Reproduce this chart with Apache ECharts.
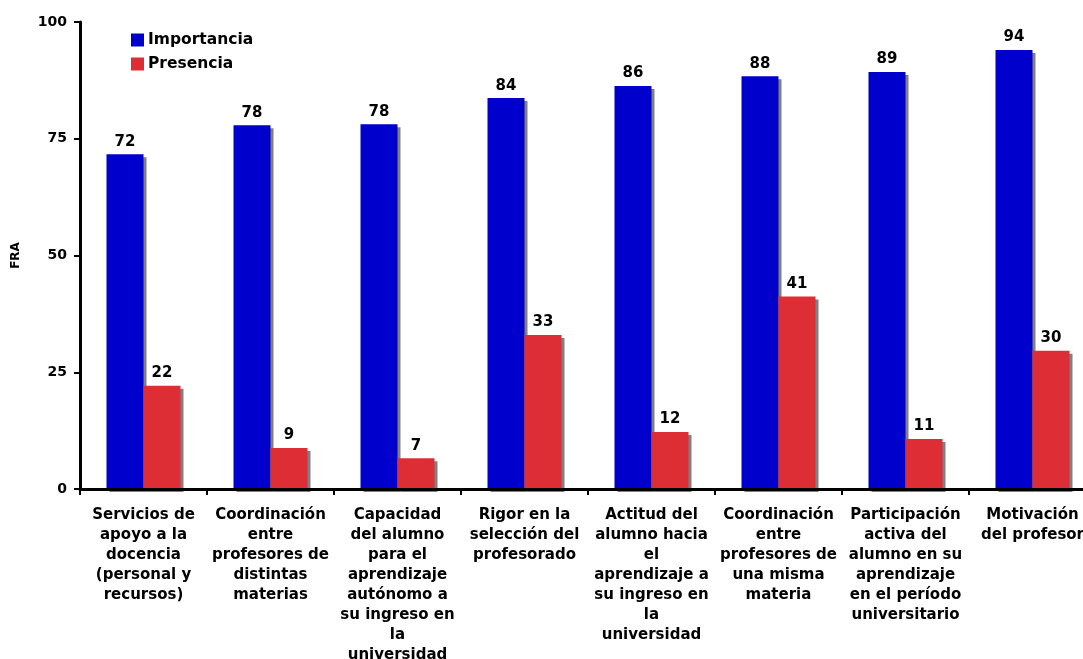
<!DOCTYPE html>
<html>
<head>
<meta charset="utf-8">
<script src="https://cdn.jsdelivr.net/npm/echarts@6/dist/echarts.min.js"></script>
<style>html,body{margin:0;padding:0;background:#fff;}#c{width:1083px;height:659px;}</style>
</head>
<body>
<div id="c"></div>
<script>
const categories = [
  "Servicios de\napoyo a la\ndocencia\n(personal y\nrecursos)",
  "Coordinación\nentre\nprofesores de\ndistintas\nmaterias",
  "Capacidad\ndel alumno\npara el\naprendizaje\nautónomo a\nsu ingreso en\nla\nuniversidad",
  "Rigor en la\nselección del\nprofesorado",
  "Actitud del\nalumno hacia\nel\naprendizaje a\nsu ingreso en\nla\nuniversidad",
  "Coordinación\nentre\nprofesores de\nuna misma\nmateria",
  "Participación\nactiva del\nalumno en su\naprendizaje\nen el período\nuniversitario",
  "Motivación\ndel profesor"
];
const importancia = [71.7, 77.9, 78.1, 83.7, 86.3, 88.4, 89.3, 94.0];
const presencia = [22.1, 8.8, 6.6, 33.0, 12.2, 41.2, 10.7, 29.6];
const yTicks = [0, 25, 50, 75, 100];

const FONT = '"DejaVu Sans", Verdana, sans-serif';
const chart = echarts.init(document.getElementById('c'), null, {renderer: 'canvas'});
const lbl = {
  show: true, position: 'top', distance: 5,
  color: '#000', fontFamily: FONT, fontWeight: 'bold', fontSize: 15,
  formatter: p => Math.round(p.value)
};
chart.setOption({
  animation: false,
  backgroundColor: '#fff',
  legend: {
    orient: 'vertical', left: 131, top: 32, padding: 0,
    icon: 'rect', itemWidth: 13, itemHeight: 13, itemGap: 8,
    textStyle: {fontFamily: FONT, fontWeight: 'bold', fontSize: 15.5, color: '#000', padding: [0,0,0,-1]},
    data: ['Importancia', 'Presencia']
  },
  grid: {left: 80, width: 1016, top: 22, height: 467, containLabel: false, outerBoundsMode: 'none'},
  xAxis: {
    type: 'category', data: categories, z: 10,
    axisLine: {lineStyle: {color: '#000', width: 3}},
    axisTick: {show: true, length: 6, lineStyle: {color: '#000', width: 2}},
    axisLabel: {interval: 0, fontFamily: FONT, fontWeight: 'bold', fontSize: 15, color: '#000', lineHeight: 20, margin: 16}
  },
  yAxis: {
    type: 'value', min: 0, max: 100, interval: 25, z: 10,
    name: 'FRA', nameLocation: 'middle', nameGap: 58, nameRotate: 90,
    nameTextStyle: {fontFamily: FONT, fontWeight: 'bold', fontSize: 12, color: '#000'},
    axisLine: {show: true, lineStyle: {color: '#000', width: 3}},
    axisTick: {show: true, length: 6, lineStyle: {color: '#000', width: 2}},
    axisLabel: {fontFamily: FONT, fontWeight: 'bold', fontSize: 14, color: '#000', margin: 13,
      formatter: v => yTicks.includes(v) ? String(v) : ''},
    splitLine: {show: false}
  },
  series: [
    {name: 'Importancia', type: 'bar', data: importancia, barWidth: 37, barGap: '0%',
     itemStyle: {color: '#0000CC', shadowColor: '#808080', shadowBlur: 0, shadowOffsetX: 3, shadowOffsetY: 3},
     label: lbl},
    {name: 'Presencia', type: 'bar', data: presencia, barWidth: 37, barGap: '0%',
     itemStyle: {color: '#DD2E36', shadowColor: '#808080', shadowBlur: 0, shadowOffsetX: 3, shadowOffsetY: 3},
     label: lbl}
  ]
});
</script>
</body>
</html>
